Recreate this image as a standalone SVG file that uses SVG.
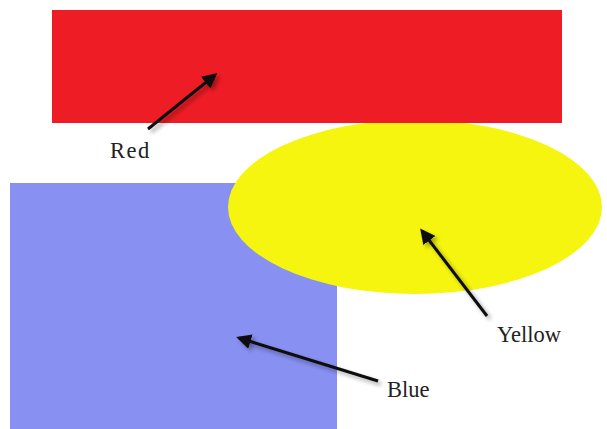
<svg xmlns="http://www.w3.org/2000/svg" width="607" height="429" viewBox="0 0 607 429">
<style>
.lbl{font-family:"Liberation Serif","Times New Roman",serif;font-size:22.5px;fill:#222}
.arr{stroke:#111;stroke-width:3;fill:none;marker-end:url(#ah);filter:url(#sh)}
</style>
<defs>
<marker id="ah" viewBox="0 0 10 10" refX="8" refY="5" markerWidth="5" markerHeight="5" orient="auto" markerUnits="strokeWidth">
<path d="M0,0 L10,5 L0,10 z" fill="#111"/>
</marker>
<filter id="sh" x="-30%" y="-30%" width="160%" height="160%">
<feGaussianBlur in="SourceAlpha" stdDeviation="2"/>
<feOffset dx="3" dy="3" result="b"/>
<feComponentTransfer><feFuncA type="linear" slope="0.35"/></feComponentTransfer>
<feMerge><feMergeNode/><feMergeNode in="SourceGraphic"/></feMerge>
</filter>
</defs>
<rect width="607" height="429" fill="#fff"/>
<g id="blue"><rect x="10" y="183" width="327" height="246" fill="#8890F2"/></g>
<g id="yellow"><ellipse cx="415" cy="207" rx="187" ry="87" fill="#F5F510"/></g>
<g id="red"><rect x="52" y="10" width="510" height="113" fill="#EE1C25"/></g>
<g id="connectors">
<line class="arr" x1="148" y1="129" x2="215" y2="75"/>
<line class="arr" x1="487" y1="316" x2="422" y2="231"/>
<line class="arr" x1="378" y1="381" x2="239" y2="338"/>
</g>
<g id="labels">
<text class="lbl" x="110" y="158" letter-spacing="1.5">Red</text>
<text class="lbl" x="497" y="342">Yellow</text>
<text class="lbl" x="387" y="397">Blue</text>
</g>
</svg>
